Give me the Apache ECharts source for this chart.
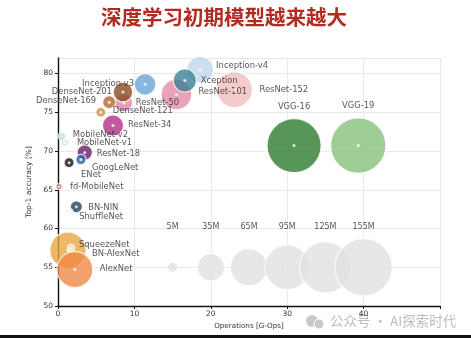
<!DOCTYPE html>
<html>
<head>
<meta charset="utf-8">
<script src="https://cdn.jsdelivr.net/npm/echarts@6/dist/echarts.min.js"></script>
<style>
html,body{margin:0;padding:0;background:#fff;}
#chart{width:471px;height:338px;}
</style>
</head>
<body>
<div id="chart"></div>
<script>
// ---- data (drawing order = z order) ----
const models = ['ResNet-152','Inception-v4','ResNet-101','Xception','Inception-v3','ResNet-50','DenseNet-201','DenseNet-169','DenseNet-121','ResNet-34','ResNet-18','GoogLeNet','ENet','MobileNet-v1','MobileNet-v2','fd-MobileNet','BN-NIN','ShuffleNet','BN-AlexNet','AlexNet','SqueezeNet','VGG-16','VGG-19'];
const gops     = [23.1, 18.6, 15.5, 16.6, 11.4, 8.6, 8.5, 6.7, 5.6, 7.2, 3.5, 3.0, 1.45, 0.9, 0.5, 0.13, 2.4, 1.6, 1.3, 2.2, 1.7, 30.9, 39.3];
const accuracy = [77.9, 80.5, 77.3, 79.1, 78.6, 76.2, 77.6, 76.3, 75.0, 73.3, 69.8, 68.9, 68.5, 71.1, 71.9, 65.4, 62.8, 62.2, 57.2, 54.7, 57.5, 70.7, 70.7];
const paramsM  = [60, 33, 44, 25, 22, 15, 18, 8, 4.5, 21, 11, 5, 4.7, 3, 2.3, 1.7, 6.8, 1.2, 62, 61, 2.3, 138, 144];

const legendParams = [5, 35, 65, 95, 125, 155];
const legendX = [15, 20, 25, 30, 35, 40];
const legendY = 55;

const xTicks = [0, 10, 20, 30, 40];
const titleText = '深度学习初期模型越来越大';
const xName = 'Operations [G-Ops]';
const yName = 'Top-1 accuracy [%]';
const watermark = '公众号 · AI探索时代';

// ---- styles ----
const colors = {
  'ResNet-152':'#F2BDBD','Inception-v4':'#BFD7EC','ResNet-101':'#E38BA5','Xception':'#3B7F98',
  'Inception-v3':'#6AA5D5','ResNet-50':'#E186A8','DenseNet-201':'#8A4B1E','DenseNet-169':'#B06A2C',
  'DenseNet-121':'#CC8B3E','ResNet-34':'#B12F89','ResNet-18':'#6A1C6E','GoogLeNet':'#2A63A6',
  'ENet':'#111111','MobileNet-v1':'#CBEDE7','MobileNet-v2':'#9FD7CB','fd-MobileNet':'#B5533C',
  'BN-NIN':'#2B3F5E','ShuffleNet':'#F0E8B2','BN-AlexNet':'#E8A843','AlexNet':'#EF8A45',
  'SqueezeNet':'#EEE6C6','VGG-16':'#2E7A30','VGG-19':'#86C17A'
};
// [align, dx, dy]
const labelPos = {
  'ResNet-152':['left',25,0],'Inception-v4':['left',16,-4],'ResNet-101':['left',22,-3],'Xception':['left',16,0],
  'Inception-v3':['right',-11,-1],'ResNet-50':['left',12,0],'DenseNet-201':['right',-11,0],'DenseNet-169':['right',-13,-1],
  'DenseNet-121':['left',12,-1],'ResNet-34':['left',15,-1],'ResNet-18':['left',12,1],'GoogLeNet':['left',11,8],
  'ENet':['left',12,12],'MobileNet-v1':['left',12,0],'MobileNet-v2':['left',11,-1],'fd-MobileNet':['left',11,0],
  'BN-NIN':['left',12,1],'ShuffleNet':['left',9,5],'BN-AlexNet':['left',24,4],'AlexNet':['left',25,-1],
  'SqueezeNet':['left',8,-3],'VGG-16':['center',0,-39],'VGG-19':['center',0,-40]
};
const K = 4.6; // diameter px per sqrt(M params)
const FONT = 'DejaVu Sans';

const modelData = models.map((m, i) => {
  const lp = labelPos[m];
  return {
    name: m,
    value: [gops[i], accuracy[i], paramsM[i]],
    symbolSize: K * Math.sqrt(paramsM[i]),
    itemStyle: { color: colors[m], borderColor: '#fff', borderWidth: 1.2 },
    label: {
      show: true, position: 'inside', align: lp[0], verticalAlign: 'middle',
      offset: [lp[1], lp[2]], formatter: m, color: '#2a2a2a',
      fontFamily: FONT, fontSize: 8.4, textBorderWidth: 0
    }
  };
});
const dotData = models.map((m, i) => [gops[i], accuracy[i]]);
const legendData = legendParams.map((p, i) => ({
  value: [legendX[i], legendY, p],
  symbolSize: K * Math.sqrt(p),
  label: { show: true, position: 'inside', align: 'center', verticalAlign: 'middle',
           offset: [0, -40], formatter: p + 'M', color: '#2a2a2a', fontFamily: FONT, fontSize: 8, textBorderWidth: 0 }
}));

const chart = echarts.init(document.getElementById('chart'), null, { renderer: 'canvas' });
chart.setOption({
  animation: false,
  backgroundColor: '#fff',
  grid: { left: 58, right: 31, top: 58, bottom: 32 },
  xAxis: {
    type: 'value', min: 0, max: 50, interval: 10,
    name: xName, nameLocation: 'middle', nameGap: 13,
    nameTextStyle: { fontFamily: FONT, fontSize: 7.2, color: '#333' },
    axisLine: { lineStyle: { color: '#111', width: 1.4 } },
    axisTick: { show: true, length: 3, lineStyle: { color: '#111' } },
    axisLabel: { fontFamily: FONT, fontSize: 7.5, color: '#333', margin: 4,
                 formatter: v => (xTicks.indexOf(v) >= 0 ? String(v) : '') },
    splitLine: { show: true, lineStyle: { color: '#e9e9e9', width: 1 } }
  },
  yAxis: {
    type: 'value', min: 50, max: 82, interval: 5,
    name: yName, nameLocation: 'middle', nameGap: 14,
    nameTextStyle: { fontFamily: FONT, fontSize: 7.5, color: '#333' },
    axisLine: { show: true, lineStyle: { color: '#111', width: 1.4 } },
    axisTick: { show: true, length: 3, lineStyle: { color: '#111' } },
    axisLabel: { fontFamily: FONT, fontSize: 7.5, color: '#333', margin: 5, showMaxLabel: false },
    splitLine: { show: true, lineStyle: { color: '#e9e9e9', width: 1 } }
  },
  series: [
    {
      type: 'scatter', clip: false, silent: true, z: 2,
      itemStyle: { color: '#e1e1e1', borderColor: '#fff', borderWidth: 1.2 },
      data: legendData
    },
    {
      type: 'scatter', clip: false, silent: true, z: 3,
      data: modelData
    },
    {
      type: 'scatter', clip: false, silent: true, z: 4, symbolSize: 3,
      itemStyle: { color: '#fff' },
      data: dotData
    }
  ],
  graphic: [
    { type: 'text', left: 101, top: 7,
      style: { text: titleText, fill: '#B22B22', font: 'bold 20.5px "Noto Sans CJK SC", sans-serif' } },
    { type: 'group', left: 306, top: 315, children: [
      { type: 'circle', shape: { cx: 6, cy: 6, r: 6 }, style: { fill: '#c8c8c8' } },
      { type: 'circle', shape: { cx: 13, cy: 9, r: 5 }, style: { fill: '#c8c8c8', stroke: '#fff', lineWidth: 1 } }
    ]},
    { type: 'text', left: 330, top: 314,
      style: { text: watermark, fill: '#bdbdbd', font: '13.5px "Noto Sans CJK SC", sans-serif' } },
    { type: 'rect', left: 0, top: 335, shape: { width: 471, height: 3 }, style: { fill: '#111' } }
  ]
});
</script>
</body>
</html>
